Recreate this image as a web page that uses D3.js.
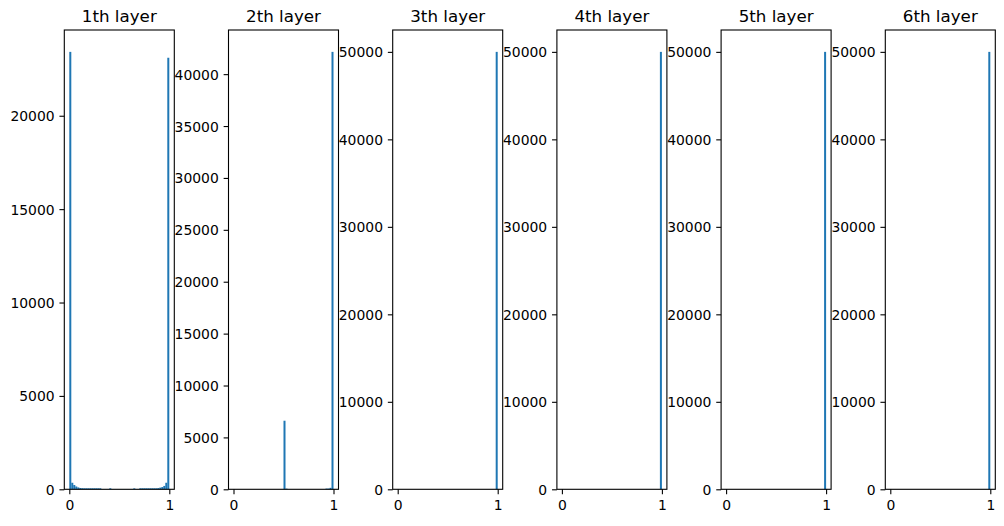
<!DOCTYPE html>
<html>
<head>
<meta charset="utf-8">
<script src="https://cdn.jsdelivr.net/npm/d3@7"></script>
<style>
  body { margin: 0; background: #fff; }
  svg { display: block; font-family: "DejaVu Sans", sans-serif; }
  .axis path, .axis line { stroke: #000; stroke-width: 1.1; }
  .axis text { fill: #000; font-size: 13.9px; font-family: "DejaVu Sans", sans-serif; }
  .title { font-size: 16.7px; fill: #000; }
</style>
</head>
<body>
<svg id="chart" width="1004" height="526"></svg>
<script>
// 50 bins over [0, 1], counts per bin for each layer
var layerNames = ["1th layer", "2th layer", "3th layer", "4th layer", "5th layer", "6th layer"];
var binEdges = d3.range(51).map(function(i) { return i / 50; });

var layer1 = [23420, 350, 230, 150, 100, 70, 60, 55, 55, 55,
              55, 55, 55, 55, 55, 55, 10, 10, 10, 10,
              55, 10, 10, 10, 10, 10, 10, 10, 10, 10,
              10, 10, 50, 10, 10, 55, 55, 55, 55, 55,
              55, 55, 55, 55, 65, 90, 120, 180, 350, 23105];
var layer2 = [0, 0, 0, 0, 0, 0, 0, 0, 0, 0,
              0, 0, 0, 0, 0, 0, 0, 0, 0, 0,
              0, 0, 0, 0, 0, 6607, 60, 0, 0, 0,
              0, 0, 0, 0, 0, 0, 0, 0, 0, 0,
              0, 0, 0, 0, 0, 0, 70, 70, 140, 42146];
var layer3 = [0, 0, 0, 0, 0, 0, 0, 0, 0, 0,
              0, 0, 0, 0, 0, 0, 0, 0, 0, 0,
              0, 0, 0, 0, 0, 0, 0, 0, 0, 0,
              0, 0, 0, 0, 0, 0, 0, 0, 0, 0,
              0, 0, 0, 0, 0, 0, 0, 0, 0, 50000];
var layer4 = layer3.slice();
var layer5 = layer3.slice();
var layer6 = layer3.slice();
var counts = [layer1, layer2, layer3, layer4, layer5, layer6];

var yTicks = [
  [0, 5000, 10000, 15000, 20000],
  [0, 5000, 10000, 15000, 20000, 25000, 30000, 35000, 40000],
  [0, 10000, 20000, 30000, 40000, 50000],
  [0, 10000, 20000, 30000, 40000, 50000],
  [0, 10000, 20000, 30000, 40000, 50000],
  [0, 10000, 20000, 30000, 40000, 50000]
];
var xTicks = [0, 1];

var svg = d3.select("#chart");
var left0 = 64.3, step = 164.2, plotW = 110, plotTop = 30, plotH = 459.3;
var tick = 4.86, pad = 4.86;

for (var i = 0; i < 6; i++) {
  var g = svg.append("g").attr("transform", "translate(" + (left0 + i * step) + "," + plotTop + ")");

  var x = d3.scaleLinear().domain([-0.05, 1.05]).range([0, plotW]);
  var y = d3.scaleLinear().domain([0, d3.max(counts[i]) * 1.05]).range([plotH, 0]);

  g.selectAll("rect.bar")
    .data(counts[i])
    .enter().append("rect")
    .attr("class", "bar")
    .attr("x", function(d, j) { return x(binEdges[j]); })
    .attr("width", function(d, j) { return x(binEdges[j + 1]) - x(binEdges[j]); })
    .attr("y", function(d) { return y(d); })
    .attr("height", function(d) { return plotH - y(d); })
    .attr("fill", "#1f77b4");

  // frame
  g.append("rect")
    .attr("width", plotW).attr("height", plotH)
    .attr("fill", "none").attr("stroke", "#000").attr("stroke-width", 1.1);

  var ya = g.append("g").attr("class", "axis")
    .call(d3.axisLeft(y).tickValues(yTicks[i]).tickSize(tick).tickPadding(pad).tickFormat(d3.format("d")));
  ya.select(".domain").remove();
  ya.selectAll("text").attr("dy", "0.36em");

  var xa = g.append("g").attr("class", "axis")
    .attr("transform", "translate(0," + plotH + ")")
    .call(d3.axisBottom(x).tickValues(xTicks).tickSize(tick).tickPadding(pad).tickFormat(d3.format("d")));
  xa.select(".domain").remove();
  xa.selectAll("text").attr("dy", "0.76em");

  g.append("text")
    .attr("class", "title")
    .attr("x", plotW / 2).attr("y", -8.3)
    .attr("text-anchor", "middle")
    .text(layerNames[i]);
}
</script>
</body>
</html>
